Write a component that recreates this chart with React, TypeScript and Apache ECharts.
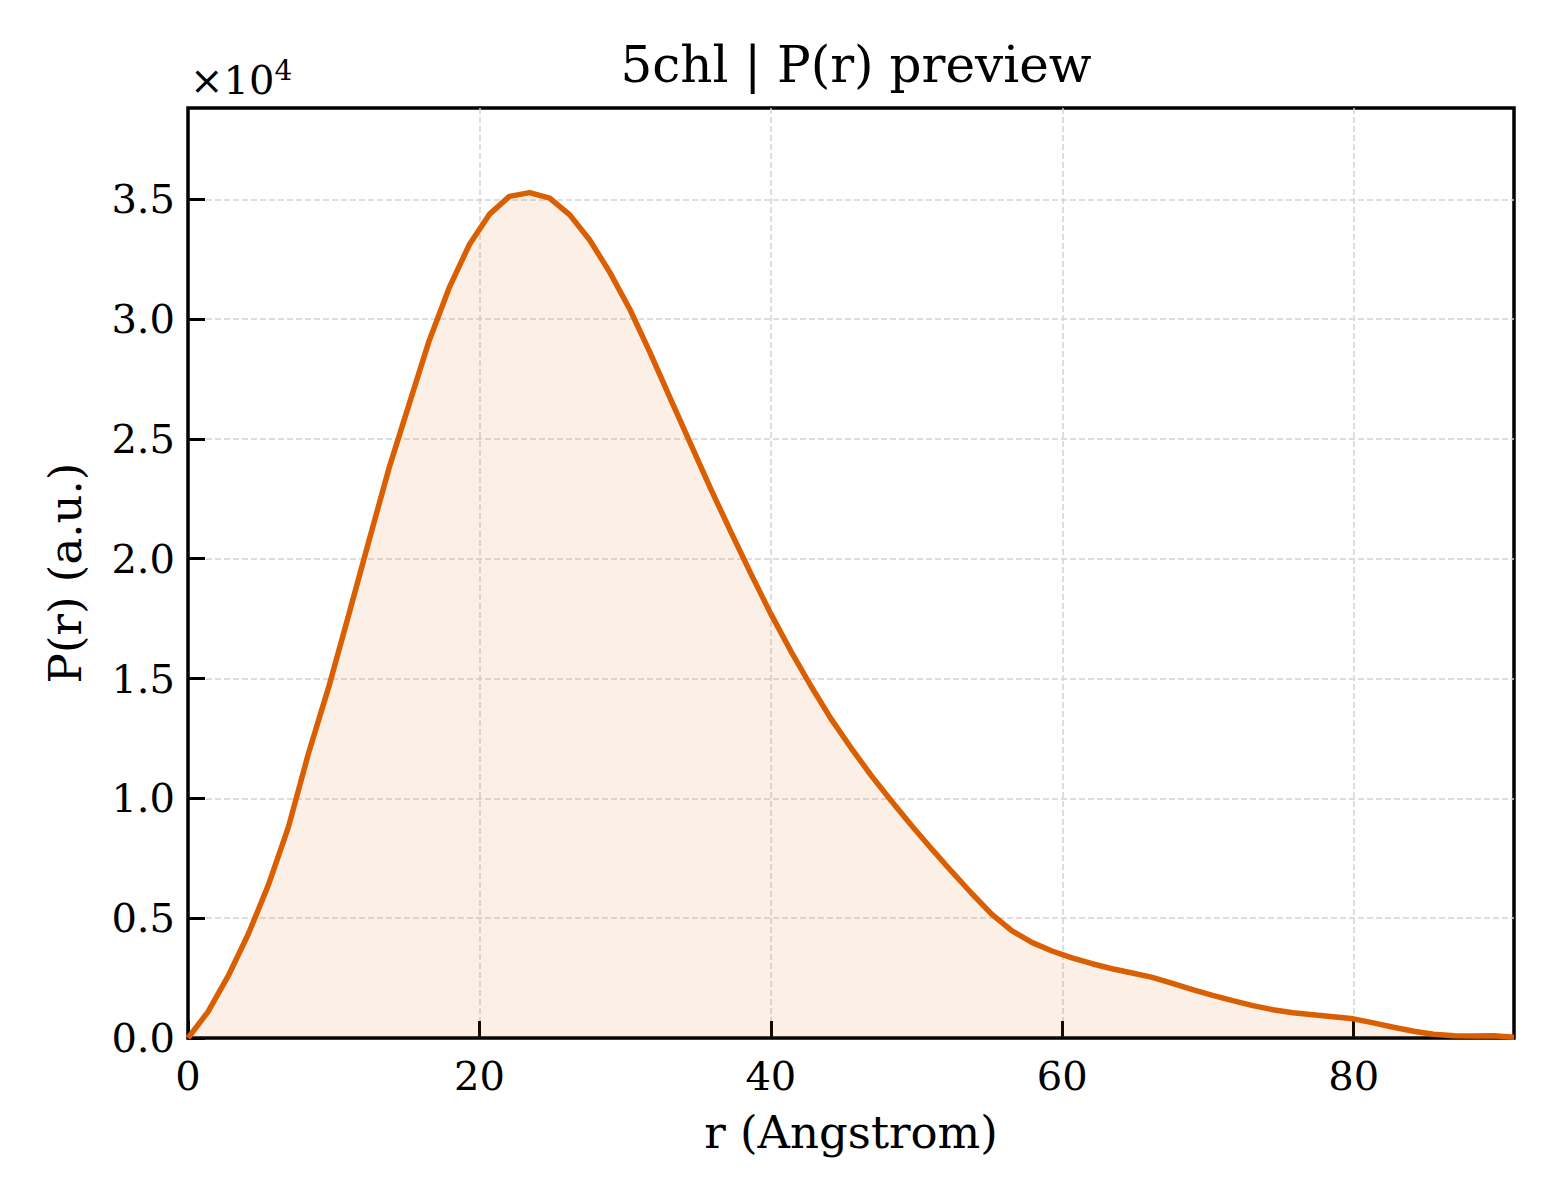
import React, { useEffect, useRef } from 'react';
import * as echarts from 'echarts';

const rValues = [
  0, 1.38, 2.76, 4.14, 5.52, 6.89, 8.27, 9.65, 11.03, 12.41, 13.79, 15.17, 16.55, 17.92,
  19.3, 20.68, 22.06, 23.44, 24.82, 26.2, 27.58, 28.95, 30.33, 31.71, 33.09, 34.47, 35.85,
  37.23, 38.61, 39.98, 41.36, 42.74, 44.12, 45.5, 46.88, 48.26, 49.64, 51.02, 52.39, 53.77,
  55.15, 56.53, 57.91, 59.29, 60.67, 62.05, 63.42, 64.8, 66.18, 67.56, 68.94, 70.32, 71.7,
  73.08, 74.45, 75.83, 77.21, 78.59, 79.97, 81.35, 82.73, 84.11, 85.48, 86.86, 88.24, 89.62, 91.0,
];

const prValues = [
  0, 1100, 2590, 4340, 6390, 8800, 11880, 14630, 17660, 20730, 23770, 26440, 29100, 31300,
  33100, 34370, 35120, 35280, 35050, 34350, 33290, 31950, 30400, 28600, 26700, 24820, 22950,
  21150, 19400, 17720, 16160, 14700, 13330, 12110, 10960, 9900, 8880, 7900, 6960, 6040,
  5170, 4480, 3990, 3630, 3340, 3100, 2890, 2710, 2530, 2280, 2020, 1780, 1560,
  1350, 1180, 1050, 970, 890, 800, 630, 450, 280, 160, 90, 80, 90, 30,
];

const xTicks = { min: 0, max: 91, interval: 20 };
const yTicks = { min: 0, max: 38810, interval: 5000 };

const FONT = 'DejaVu Serif';

const App: React.FC = () => {
  const chartRef = useRef<HTMLDivElement>(null);

  useEffect(() => {
    const chart = echarts.init(chartRef.current, null, { renderer: 'svg' });

    const gridLine = {
      show: true,
      showMinLine: false,
      showMaxLine: false,
      lineStyle: { color: '#d4d4d4', width: 1.5, type: [6, 3] as number[] },
    };

    const option = {
      animation: false,
      backgroundColor: '#fff',
      title: {
        text: '5chl | P(r) preview',
        left: 851,
        top: 35,
        textAlign: 'center',
        textStyle: { fontFamily: FONT, fontSize: 50, fontWeight: 'normal', color: '#000' },
      },
      graphic: [
        {
          type: 'text',
          left: 190,
          top: 56,
          style: {
            text: '{a|×10}{b|4}',
            fill: '#000',
            rich: {
              a: { fontFamily: FONT, fontSize: 40, lineHeight: 44, verticalAlign: 'bottom', fill: '#000' },
              b: { fontFamily: FONT, fontSize: 28, lineHeight: 28, verticalAlign: 'top', fill: '#000' },
            },
          },
        },
      ],
      grid: {
        left: 188,
        top: 108,
        right: 46,
        bottom: 162,
        show: true,
        borderColor: '#000',
        borderWidth: 3.5,
        backgroundColor: 'transparent',
        outerBoundsMode: 'none',
      },
      xAxis: {
        type: 'value',
        min: xTicks.min,
        max: xTicks.max,
        interval: xTicks.interval,
        name: 'r (Angstrom)',
        nameLocation: 'middle',
        nameGap: 72,
        nameTextStyle: { fontFamily: FONT, fontSize: 45, color: '#000' },
        axisLine: { show: false },
        axisTick: { show: true, inside: true, length: 17, lineStyle: { color: '#000', width: 3 } },
        axisLabel: {
          fontFamily: FONT,
          fontSize: 40,
          color: '#000',
          margin: 18,
          showMaxLabel: false,
        },
        splitLine: gridLine,
      },
      yAxis: {
        type: 'value',
        min: yTicks.min,
        max: yTicks.max,
        interval: yTicks.interval,
        name: 'P(r) (a.u.)',
        nameLocation: 'middle',
        nameRotate: 90,
        nameGap: 100,
        nameTextStyle: { fontFamily: FONT, fontSize: 45, color: '#000' },
        axisLine: { show: false },
        axisTick: { show: true, inside: true, length: 17, lineStyle: { color: '#000', width: 3 } },
        axisLabel: {
          fontFamily: FONT,
          fontSize: 40,
          color: '#000',
          margin: 13,
          showMaxLabel: false,
          formatter: (v: number) => (v / 10000).toFixed(1),
        },
        splitLine: gridLine,
      },
      series: [
        {
          type: 'line',
          data: rValues.map((r, i) => [r, prValues[i]]),
          showSymbol: false,
          smooth: false,
          lineStyle: { color: '#D95F02', width: 5.5 },
          itemStyle: { color: '#D95F02' },
          areaStyle: { color: 'rgba(217,95,2,0.14)' },
        },
      ],
    };

    chart.setOption(option);

    return () => {
      chart.dispose();
    };
  }, []);

  return (
    <div
      ref={chartRef}
      style={{ position: 'absolute', left: 0, top: 0, width: '1560px', height: '1200px' }}
    ></div>
  );
};

export default App;
